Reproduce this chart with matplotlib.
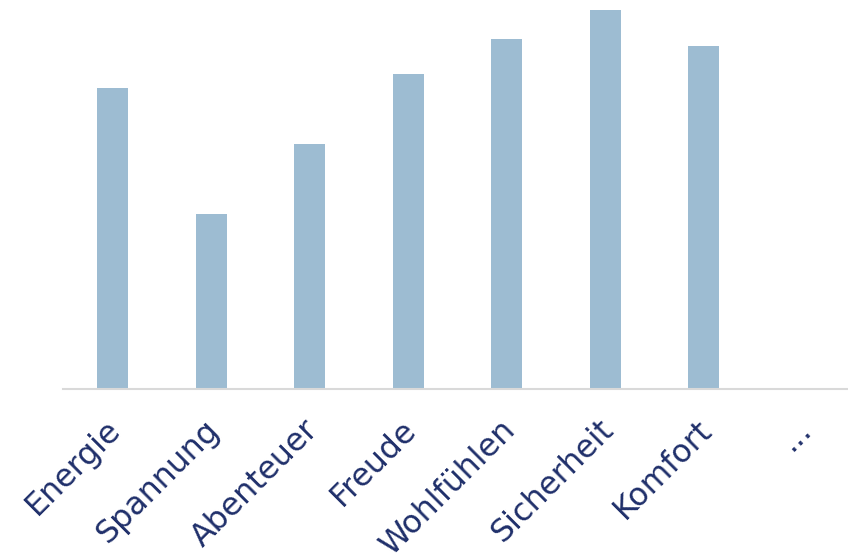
import matplotlib
matplotlib.use('Agg')
import matplotlib.pyplot as plt
import matplotlib.transforms as mtransforms
import numpy as np

# ===================== 数据 =====================
categories = ['Energie', 'Spannung', 'Abenteuer', 'Freude', 'Wohlfühlen',
              'Sicherheit', 'Komfort', '...']
values = [301, 175, 245, 315, 350, 379, 343, 0]

bar_color = '#9dbcd2'
label_color = '#1f2f6a'

plt.rcParams['font.family'] = ['DejaVu Sans']

fig = plt.figure(figsize=(8.48, 5.59), dpi=100)
ax = fig.add_axes([0.0745, 0.304, 0.93, 0.68])

x = np.arange(len(categories))
ax.bar(x, values, width=0.315, color=bar_color)

ax.set_xlim(-0.5, len(categories) - 0.5)
ax.set_ylim(0, 380)

ax.set_xticks(x)
ax.set_xticklabels(categories, rotation=45, ha='right', rotation_mode='anchor',
                   fontsize=22.8, color=label_color)
ax.tick_params(axis='x', length=0, pad=18)
ax.set_yticks([])

# 标签整体略向左偏移
offset = mtransforms.ScaledTranslation(-7 / 100, 0, fig.dpi_scale_trans)
for lbl in ax.get_xticklabels():
    lbl.set_transform(lbl.get_transform() + offset)

for side in ['top', 'right', 'left']:
    ax.spines[side].set_visible(False)
ax.spines['bottom'].set_color('#d9d9d9')
ax.spines['bottom'].set_linewidth(1.5)

fig.savefig('out.png', dpi=100)
